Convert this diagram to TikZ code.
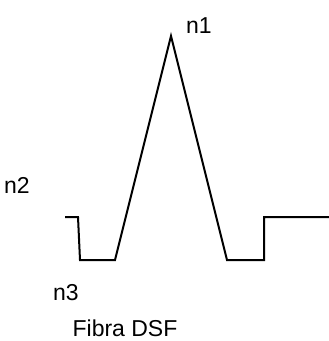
\documentclass[tikz,border=0pt]{standalone}
\usepackage{fontspec}
\setmainfont{Liberation Sans}
\usetikzlibrary{calc}

\begin{document}
\begin{tikzpicture}[x=1pt, y=-1pt,
    profile/.style={line width=2pt, line join=miter},
    lbl/.style={font=\fontsize{23}{25}\selectfont, inner sep=0pt}]
  \useasboundingbox (0,0) rectangle (329,341);

  % index profile
  \coordinate (L0) at (65,217);
  \coordinate (L1) at (78,217);
  \coordinate (L2) at (80,260);
  \coordinate (A) at (115,260);
  \coordinate (P) at (171,36);
  \coordinate (B) at (227,260);
  \coordinate (R1) at (264,260);
  \coordinate (R2) at (264,217);
  \coordinate (R3) at (329,217);
  \draw[profile] (L0) -- (L1) -- (L2) -- (A) -- (P) -- (B) -- (R1) -- (R2) -- (R3);

  % labels
  \node[lbl] (n1) at (199,26) {n1};
  \node[lbl] (n2) at (17,185) {n2};
  \node[lbl] (n3) at (66,293) {n3};
  \node[lbl] (fibra) at (125,328) {Fibra DSF};
\end{tikzpicture}
\end{document}
